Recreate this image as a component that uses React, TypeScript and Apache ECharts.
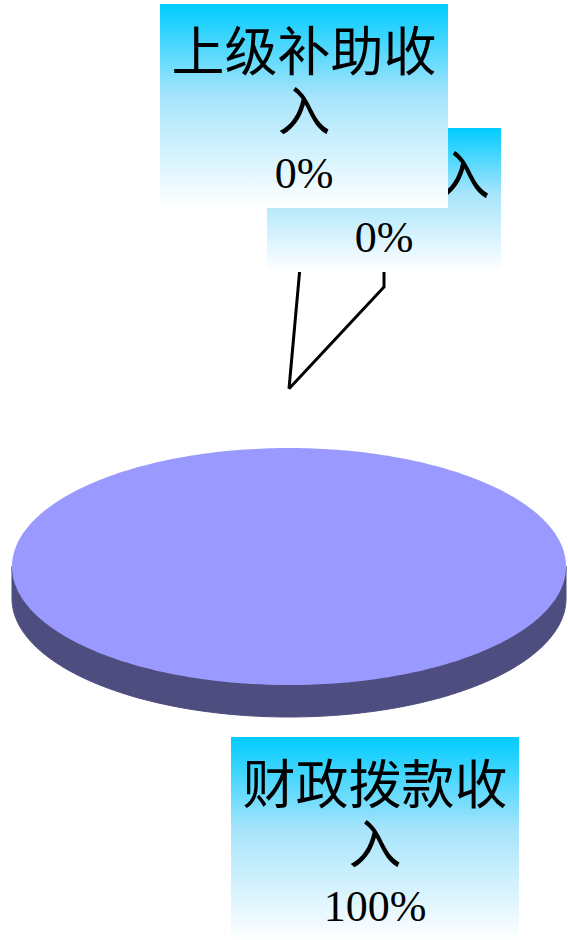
import React, { useEffect, useRef } from "react";
import * as echarts from "echarts";

// ---- data ----
const categories: string[] = ["财政拨款收入", "上级补助收入", "其他收入"];
const values: number[] = [100, 0, 0];

// ---- layout (not data) ----
const labelBoxPos = [
  { x: 231, y: 737 },
  { x: 160, y: 4 },
  { x: 267, y: 128 },
];
const labelWrapChars = [5, 5, 4];
const labelZBase = [20, 40, 30];
const showLeader = [false, true, true];

const PIE = { cx: 289, cy: 566.5, rx: 277, ry: 118.5, depth: 32 };
const TOP_COLOR = "#9999ff";
const SIDE_COLOR = "#4d4d80";
const CHAR_W = 54;

function wrap(name: string, n: number): string[] {
  const out: string[] = [];
  for (let i = 0; i < name.length; i += n) out.push(name.slice(i, i + n));
  return out;
}

function pt(a: number, k: number, dy = 0): number[] {
  return [PIE.cx + PIE.rx * k * Math.sin(a), PIE.cy - PIE.ry * k * Math.cos(a) + dy];
}

export default function App() {
  const ref = useRef<HTMLDivElement>(null);
  useEffect(() => {
    if (!ref.current) return;
    const chart = echarts.init(ref.current, null, { renderer: "svg" });
    const total = values.reduce((s, v) => s + v, 0);

    const renderItem = (params: any, api: any) => {
      const i = params.dataIndex;
      const v = api.value(0) as number;
      let before = 0;
      for (let j = 0; j < i; j++) before += values[j];
      const start = (before / total) * Math.PI * 2;
      const end = ((before + v) / total) * Math.PI * 2;
      const children: any[] = [];

      if (v > 0) {
        const s = Math.max(start, Math.PI / 2);
        const e = Math.min(end, (Math.PI * 3) / 2);
        if (s < e) {
          const N = 120;
          const pts: number[][] = [];
          for (let k = 0; k <= N; k++) pts.push(pt(s + ((e - s) * k) / N, 1));
          for (let k = N; k >= 0; k--) pts.push(pt(s + ((e - s) * k) / N, 1, PIE.depth));
          children.push({
            type: "polygon",
            z2: 1,
            shape: { points: pts },
            style: { fill: SIDE_COLOR, stroke: SIDE_COLOR, lineWidth: 1 },
          });
        }
        const N2 = 360;
        const tp: number[][] = [];
        const full = end - start >= Math.PI * 2 - 1e-9;
        if (!full) tp.push([PIE.cx, PIE.cy]);
        for (let k = 0; k <= N2; k++) tp.push(pt(start + ((end - start) * k) / N2, 1));
        children.push({
          type: "polygon",
          z2: 2,
          shape: { points: tp },
          style: { fill: TOP_COLOR },
        });
      }

      const nameLines = wrap(categories[i], labelWrapChars[i]);
      const pct = Math.round((v / total) * 100) + "%";
      const maxChars = Math.max(...nameLines.map((l) => l.length));
      const w = maxChars * CHAR_W + 18;
      const h = nameLines.length * 60 + 70 + 14;
      const bx = labelBoxPos[i].x;
      const by = labelBoxPos[i].y;
      const zb = labelZBase[i];

      if (showLeader[i]) {
        const mid = (start + end) / 2;
        const anchor = pt(mid, 1.5);
        const bc = [bx + w / 2, by + h];
        children.push({
          type: "polyline",
          z2: 5,
          shape: { points: [bc, [bc[0], bc[1] + 15], anchor] },
          style: { stroke: "#000", lineWidth: 3, fill: null },
        });
      }

      children.push({
        type: "rect",
        z2: zb,
        shape: { x: bx, y: by, width: w, height: h },
        style: {
          fill: new echarts.graphic.LinearGradient(0, 0, 0, 1, [
            { offset: 0, color: "#00ccff" },
            { offset: 0.45, color: "#a6e4fb" },
            { offset: 1, color: "#ffffff" },
          ]),
        },
      });
      const richText =
        nameLines.map((l) => "{cn|" + l + "}").join("\n") + "\n{num|" + pct + "}";
      children.push({
        type: "text",
        z2: zb + 1,
        style: {
          text: richText,
          x: bx + w / 2,
          y: by + 14,
          align: "center",
          verticalAlign: "top",
          fill: "#000",
          rich: {
            cn: {
              fontSize: 53,
              lineHeight: 60,
              fontFamily: "'Noto Sans CJK SC', sans-serif",
              fill: "#000",
              align: "center",
            },
            num: {
              fontSize: 44,
              lineHeight: 70,
              fontFamily: "'Liberation Serif', 'DejaVu Serif', serif",
              fill: "#000",
              align: "center",
            },
          },
        },
      });

      return { type: "group", children };
    };

    chart.setOption({
      animation: false,
      backgroundColor: "#ffffff",
      series: [
        {
          type: "custom",
          coordinateSystem: "none",
          renderItem,
          data: values.map((v, i) => ({ name: categories[i], value: [v] })),
        },
      ],
    });
    return () => chart.dispose();
  }, []);

  return (
    <div
      ref={ref}
      style={{ position: "fixed", left: 0, top: 0, width: 568, height: 940 }}
    />
  );
}
